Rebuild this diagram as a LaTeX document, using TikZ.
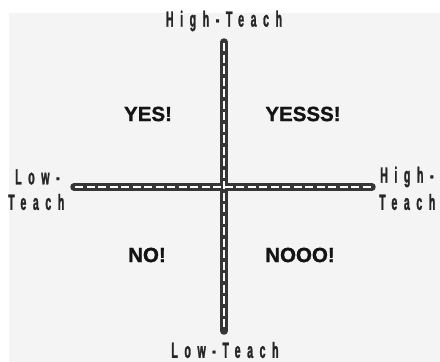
\documentclass[tikz,border=0pt]{standalone}
\usepackage{fontspec}
\setmainfont{Liberation Sans}
\newfontfamily\axisfont[FakeStretch=0.48,LetterSpace=30,FakeBold=1.2]{Liberation Sans Bold}
\newfontfamily\quadfont[FakeBold=1.2]{Liberation Sans Bold}
\definecolor{bg}{HTML}{F4F4F4}
\definecolor{axiscol}{HTML}{363636}
\definecolor{labcol}{HTML}{262626}
\begin{document}
\begin{tikzpicture}[x=1pt,y=-1pt,
  axislab/.style={text=labcol,font=\axisfont\fontsize{22}{24}\selectfont,inner sep=0pt,align=center},
  quad/.style={text=black!92,font=\quadfont\fontsize{20.5}{22}\selectfont,inner sep=0pt},
  axisouter/.style={draw=axiscol,line width=7.5pt,line cap=round},
  axisinner/.style={draw=white,line width=2.3pt,dash pattern=on 8pt off 3.5pt}]
\useasboundingbox (0,0) rectangle (440,362);
\fill[white] (0,0) rectangle (440,362);
\fill[bg] (9,13) rectangle (440,362);
% axes
\coordinate (vt) at (224,42);
\coordinate (vb) at (224,331);
\coordinate (hl) at (74,187);
\coordinate (hr) at (372,187);
\draw[axisouter] (vt) -- (vb);
\draw[axisouter] (hl) -- (hr);
\draw[axisinner] (224,43) -- (224,330);
\draw[axisinner] (75,187) -- (371,187);
% axis labels
\node[axislab] (top) at (224,21) {High-Teach};
\node[axislab] (bot) at (225,350) {Low-Teach};
\node[axislab,anchor=west] (left1) at (15,177) {Low-};
\node[axislab,anchor=west] (left2) at (8,202) {Teach};
\node[axislab,anchor=west] (right1) at (380,177) {High-};
\node[axislab,anchor=west] (right2) at (379,202) {Teach};
% quadrant labels
\node[quad] (yes) at (148,114) {YES!};
\node[quad] (yesss) at (303,114) {YESSS!};
\node[quad] (no) at (147,255) {NO!};
\node[quad] (nooo) at (300,255) {NOOO!};
\end{tikzpicture}
\end{document}
